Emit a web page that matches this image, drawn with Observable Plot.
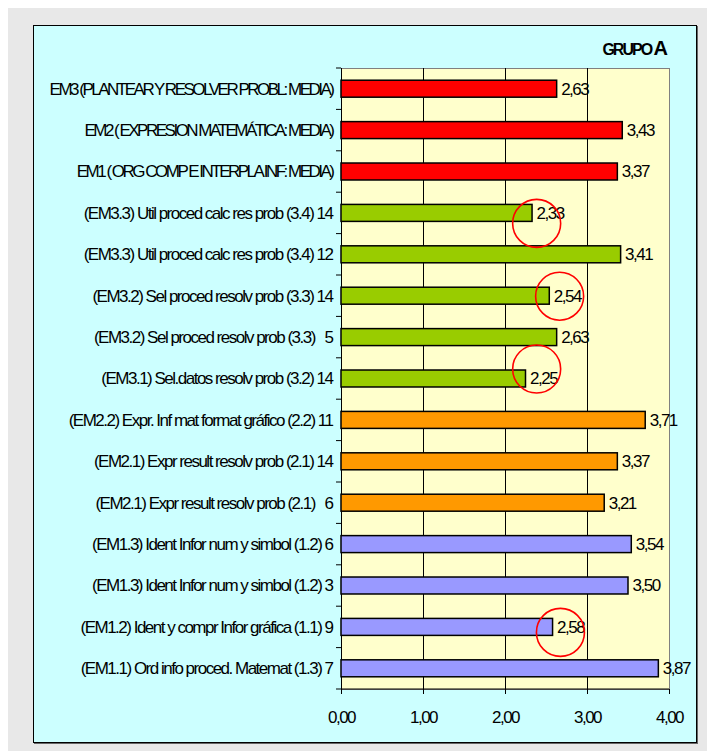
<!DOCTYPE html>
<html><head><meta charset="utf-8">
<script src="https://cdn.jsdelivr.net/npm/d3@7"></script>
<script src="https://cdn.jsdelivr.net/npm/@observablehq/plot@0.6"></script>
<style>
body{margin:0;background:#fff;font-family:"Liberation Sans",Arial,sans-serif;}
#bg{position:absolute;left:8px;top:8px;width:699px;height:743px;background:#e8e8e8;}
#panel{position:absolute;left:33px;top:25px;width:662px;height:716px;background:#ccffff;border:1px solid #000;box-shadow:1px 1px 0 #666;}
#title{position:absolute;right:28px;top:12px;font-weight:bold;font-size:16px;letter-spacing:-2px;line-height:20px;white-space:pre;}
#title .big{font-size:20px;letter-spacing:0;}
#chart{position:absolute;left:0;top:0;}
#chart svg text{white-space:pre;letter-spacing:-1.5px;}
</style></head>
<body>
<div id="bg"></div>
<div id="panel"><div id="chart"></div><div id="title">GRUPO <span class="big">A</span></div></div>
<script>
const categories = [
  "EM3 (PLANTEAR Y RESOLVER PROBL: MEDIA)",
  "EM2 ( EXPRESION MATEMÁTICA: MEDIA)",
  "EM1 ( ORG COMP E INTERPLA INF: MEDIA)",
  "(EM3.3) Util proced calc res prob (3.4) 14",
  "(EM3.3) Util proced calc res prob (3.4) 12",
  "(EM3.2) Sel proced resolv prob (3.3) 14",
  "(EM3.2) Sel proced resolv prob (3.3)   5",
  "(EM3.1) Sel.datos resolv prob (3.2) 14",
  "(EM2.2) Expr. Inf mat format gráfico (2.2) 11",
  "(EM2.1) Expr result resolv prob (2.1) 14",
  "(EM2.1) Expr result resolv prob (2.1)   6",
  "(EM1.3) Ident Infor num y simbol (1.2) 6",
  "(EM1.3) Ident Infor num y simbol (1.2) 3",
  "(EM1.2) Ident y compr Infor gráfica (1.1) 9",
  "(EM1.1) Ord info proced. Matemat (1.3) 7"
];
const values = [2.63, 3.43, 3.37, 2.33, 3.41, 2.54, 2.63, 2.25, 3.71, 3.37, 3.21, 3.54, 3.50, 2.58, 3.87];
const groups = ["MEDIA","MEDIA","MEDIA","EM3","EM3","EM3","EM3","EM3","EM2","EM2","EM2","EM1","EM1","EM1","EM1"];
const groupNames = ["MEDIA","EM3","EM2","EM1"];
const groupColors = ["#ff0000","#99cc00","#ff9900","#9999ff"];
const xTicks = [0, 1, 2, 3, 4];
// highlighted (circled) values: category and circle centre in data units
const circled = [
  {label: categories[3], x: 2.38},
  {label: categories[5], x: 2.66},
  {label: categories[7], x: 2.38},
  {label: categories[13], x: 2.67}
];
const circleDy = [10, 0, -10, 5];

const data = categories.map((c, i) => ({label: c, value: values[i], group: groups[i]}));
const fmt = v => v.toFixed(2).replace(".", ",");

const chart = Plot.plot({
  width: 662, height: 716,
  marginLeft: 307, marginTop: 42, marginRight: 27, marginBottom: 53,
  style: {fontFamily: "'Liberation Sans', Arial, sans-serif", fontSize: "17px", background: "transparent", color: "#000"},
  x: {domain: [0, 4]},
  y: {domain: categories, paddingInner: 0.59, paddingOuter: 0.295, round: false},
  color: {domain: groupNames, range: groupColors},
  marks: [
    Plot.frame({fill: "#ffffcc", stroke: "#808080"}),
    Plot.gridX([1, 2, 3], {stroke: "#000", strokeOpacity: 1}),
    Plot.ruleX([0], {stroke: "#000"}),
    Plot.barX(data, {x: "value", y: "label", fill: "group", stroke: "#000", strokeWidth: 1.5}),
    Plot.text(data, {x: "value", y: "label", text: d => fmt(d.value), textAnchor: "start", dx: 4, fontSize: 17, fill: "#000"}),
    ...circled.map((c, i) => Plot.dot([c], {x: "x", y: "label", r: 24, stroke: "#ff0000", strokeWidth: 1.6, fill: "none", dy: circleDy[i]})),
    Plot.axisX({ticks: xTicks, tickFormat: fmt, tickSize: 5, tickPadding: 16, fontSize: 17, label: null}),
    Plot.axisY({tickSize: 0, tickPadding: 9, fontSize: 17, label: null})
  ]
});
document.getElementById("chart").append(chart);

const svg = d3.select(chart);
// the upper-case summary labels are set tighter in the original
svg.selectAll("text").filter(function() { return /MEDIA\)$/.test(this.textContent); })
  .style("letter-spacing", "-2.5px");

// bottom axis line and category boundary ticks on the left axis
const ys = chart.scale("y"), xs = chart.scale("x");
const x0 = xs.apply(0), x4 = xs.apply(4);
const gap = (ys.step - ys.bandwidth) / 2;
const bounds = categories.map(c => ys.apply(c) - gap);
bounds.push(ys.apply(categories[categories.length - 1]) + ys.bandwidth + gap);
const g = svg.append("g").attr("stroke", "#000");
g.append("line").attr("x1", x0).attr("x2", x4).attr("y1", bounds[bounds.length - 1]).attr("y2", bounds[bounds.length - 1]);
g.selectAll("line.t").data(bounds).join("line").attr("class", "t")
  .attr("x1", x0 - 5).attr("x2", x0).attr("y1", d => d).attr("y2", d => d);
</script>
</body></html>
